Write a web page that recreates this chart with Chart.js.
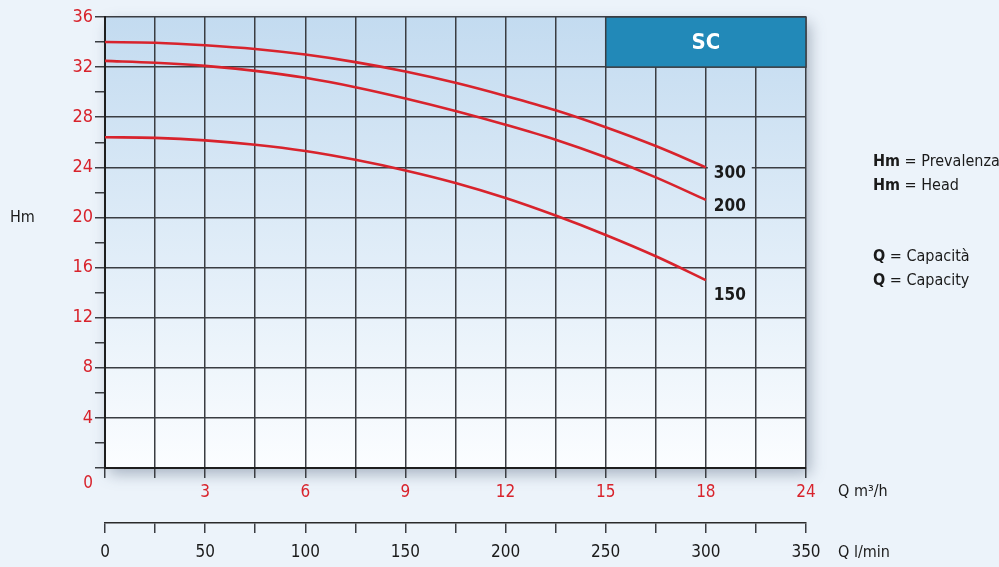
<!DOCTYPE html>
<html>
<head>
<meta charset="utf-8">
<title>SC curves</title>
<script src="https://cdn.jsdelivr.net/npm/chart.js@4.4.1/dist/chart.umd.min.js"></script>
<style>
  html, body { margin: 0; padding: 0; background: #ecf3fa; }
  #wrap { width: 999px; height: 567px; }
</style>
</head>
<body>
<div id="wrap"><canvas id="myChart" width="999" height="567"></canvas></div>
<script>
// flow in l/min, head in m
const FLOW_LMIN = [0, 25, 50, 75, 100, 125, 150, 175, 200, 225, 250, 275, 300];
const HEAD_300 = [34.0, 33.95, 33.75, 33.45, 33.0, 32.4, 31.65, 30.75, 29.7, 28.55, 27.2, 25.7, 24.0];
const HEAD_200 = [32.5, 32.35, 32.1, 31.7, 31.15, 30.4, 29.5, 28.5, 27.4, 26.2, 24.8, 23.2, 21.4];
const HEAD_150 = [26.4, 26.35, 26.15, 25.8, 25.3, 24.6, 23.75, 22.75, 21.55, 20.15, 18.6, 16.9, 15.0];
const CURVE_NAMES = ['300', '200', '150'];

const LMIN_TICKS = [0, 50, 100, 150, 200, 250, 300, 350];
const M3H_LABELS = ['0', '3', '6', '9', '12', '15', '18', '24'];
const LMIN_LABELS = ['0', '50', '100', '150', '200', '250', '300', '350'];
const HM_MAX = 36;

const SC_FLOW = [250, 350];
const SC_HEAD = [32, 36];

const RED = '#d8232c';
const GRID = '#3a3d42';
const FONT = "'Liberation Sans Narrow', 'DejaVu Sans Condensed', 'Roboto Condensed', 'Liberation Sans', sans-serif";
const LABEL_DY = [6, 7, 15];

Chart.defaults.font.family = FONT;
Chart.defaults.font.size = 17;

function points(heads) {
    return FLOW_LMIN.map((q, i) => ({ x: q, y: heads[i] }));
}

function textRun(ctx, parts, x, y) {
    for (const p of parts) {
        ctx.font = (p.bold ? 'bold ' : '') + '16px ' + FONT;
        ctx.fillText(p.t, x, y);
        x += ctx.measureText(p.t).width;
    }
}

const paper = {
    id: 'paper',
    beforeDraw(chart) {
        const { ctx, chartArea: a } = chart;
        ctx.save();
        const g = ctx.createLinearGradient(0, a.top, 0, a.bottom);
        g.addColorStop(0, 'rgb(195,219,240)');
        g.addColorStop(1, 'rgb(251,253,255)');
        chart.$bg = g;
        ctx.shadowColor = 'rgba(40,60,90,0.35)';
        ctx.shadowBlur = 14;
        ctx.shadowOffsetX = 4;
        ctx.shadowOffsetY = 6;
        ctx.fillStyle = g;
        ctx.fillRect(a.left, a.top, a.right - a.left, a.bottom - a.top);
        ctx.restore();
    },
    beforeDatasetsDraw(chart) {
        const { ctx, scales: { x, y } } = chart;
        const x0 = x.getPixelForValue(SC_FLOW[0]), x1 = x.getPixelForValue(SC_FLOW[1]);
        const y0 = y.getPixelForValue(SC_HEAD[1]), y1 = y.getPixelForValue(SC_HEAD[0]);
        ctx.save();
        ctx.fillStyle = '#2289b8';
        ctx.fillRect(x0, y0, x1 - x0, y1 - y0);
        ctx.strokeStyle = GRID;
        ctx.lineWidth = 1.5;
        ctx.strokeRect(x0, y0, x1 - x0, y1 - y0);
        ctx.fillStyle = '#ffffff';
        ctx.font = 'bold 22px ' + FONT;
        ctx.textAlign = 'center';
        ctx.textBaseline = 'middle';
        ctx.fillText('SC', (x0 + x1) / 2, (y0 + y1) / 2 + 1);
        ctx.restore();
    },
    afterDatasetsDraw(chart) {
        const { ctx, chartArea: a, scales: { x, y } } = chart;
        ctx.save();
        ctx.textBaseline = 'middle';

        // curve names at the end of each line
        ctx.font = 'bold 17px ' + FONT;
        chart.data.datasets.forEach((ds, i) => {
            const last = ds.data[ds.data.length - 1];
            const px = x.getPixelForValue(last.x) + 8;
            const py = y.getPixelForValue(last.y) + LABEL_DY[i];
            const w = ctx.measureText(CURVE_NAMES[i]).width;
            ctx.fillStyle = chart.$bg;
            ctx.fillRect(px - 6, py - 7, w + 12, 14);
            ctx.fillStyle = '#1a1a1a';
            ctx.fillText(CURVE_NAMES[i], px, py);
        });

        // shared origin label
        ctx.font = '17px ' + FONT;
        ctx.fillStyle = RED;
        ctx.textAlign = 'right';
        ctx.fillText('0', x.getPixelForValue(0) - 12, y.getPixelForValue(0) + 16);

        // axis names
        ctx.font = '16px ' + FONT;
        ctx.fillStyle = '#1a1a1a';
        ctx.textAlign = 'left';
        ctx.fillText('Hm', 10, y.getPixelForValue(20));
        ctx.fillText('Q m\u00b3/h', a.right + 32, 492);
        ctx.fillText('Q l/min', a.right + 32, 553);

        // side notes
        textRun(ctx, [{ t: 'Hm', bold: true }, { t: ' = Prevalenza' }], 873, 162);
        textRun(ctx, [{ t: 'Hm', bold: true }, { t: ' = Head' }], 873, 186);
        textRun(ctx, [{ t: 'Q', bold: true }, { t: ' = Capacit\u00e0' }], 873, 257);
        textRun(ctx, [{ t: 'Q', bold: true }, { t: ' = Capacity' }], 873, 281);
        ctx.restore();
    }
};

function makeDataset(heads) {
    return {
        data: points(heads),
        borderColor: RED,
        borderWidth: 2.6,
        pointRadius: 0,
        tension: 0.35,
        fill: false
    };
}

const ctx = document.getElementById('myChart').getContext('2d');
const myChart = new Chart(ctx, {
    type: 'line',
    data: {
        datasets: [makeDataset(HEAD_300), makeDataset(HEAD_200), makeDataset(HEAD_150)]
    },
    options: {
        responsive: false,
        devicePixelRatio: 1,
        animation: false,
        layout: { padding: { top: 17, right: 193, bottom: 0, left: 0 } },
        plugins: { legend: { display: false }, tooltip: { enabled: false } },
        scales: {
            x: {
                type: 'linear',
                position: 'bottom',
                min: 0,
                max: LMIN_TICKS[LMIN_TICKS.length - 1],
                afterFit: (s) => { s.height = 55; },
                grid: { color: GRID, lineWidth: 1.5, tickLength: 10, tickColor: GRID },
                border: { color: '#1e1e1e', width: 2 },
                ticks: {
                    stepSize: 25,
                    autoSkip: false,
                    maxRotation: 0,
                    padding: 4,
                    color: RED,
                    callback: (v) => {
                        const i = LMIN_TICKS.indexOf(v);
                        return i > 0 ? M3H_LABELS[i] : '';
                    }
                }
            },
            x2: {
                type: 'linear',
                position: 'bottom',
                min: 0,
                max: LMIN_TICKS[LMIN_TICKS.length - 1],
                afterFit: (s) => { s.height = 44; },
                grid: { drawOnChartArea: false, color: GRID, lineWidth: 1.5, tickLength: 10 },
                border: { color: '#2a2a2a', width: 1.5 },
                ticks: {
                    stepSize: 25,
                    autoSkip: false,
                    maxRotation: 0,
                    padding: 9,
                    color: '#1a1a1a',
                    callback: (v) => {
                        const i = LMIN_TICKS.indexOf(v);
                        return i >= 0 ? LMIN_LABELS[i] : '';
                    }
                }
            },
            y: {
                min: 0,
                max: HM_MAX,
                afterFit: (s) => { s.width = 105; },
                grid: {
                    color: (c) => (c.tick && c.tick.value % 4 === 0 ? GRID : 'rgba(0,0,0,0)'),
                    tickColor: GRID,
                    lineWidth: 1.5,
                    tickLength: 10
                },
                border: { color: '#1e1e1e', width: 2 },
                ticks: {
                    stepSize: 2,
                    autoSkip: false,
                    padding: 2,
                    color: RED,
                    font: { size: 18 },
                    callback: (v) => (v % 4 === 0 && v !== 0 ? String(v) : '')
                }
            }
        }
    },
    plugins: [paper]
});
</script>
</body>
</html>
